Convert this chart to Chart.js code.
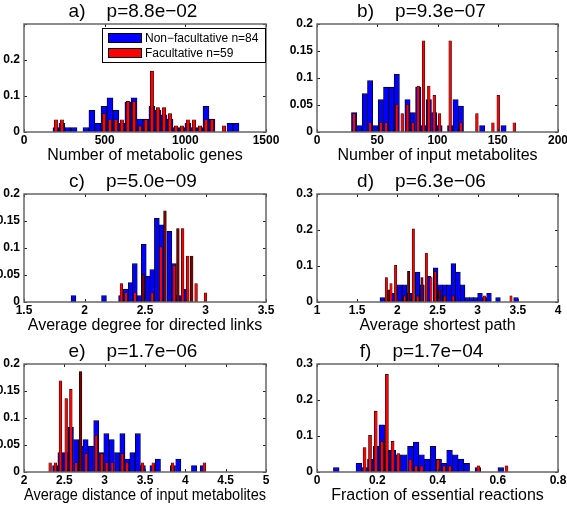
<!DOCTYPE html>
<html>
<head>
<meta charset="utf-8">
<script src="https://cdn.jsdelivr.net/npm/chart.js@4.4.1/dist/chart.umd.min.js"></script>
<style>
  html, body { margin: 0; padding: 0; background: #fff; overflow: hidden; width: 567px; height: 507px; }
  canvas { position: absolute; }
</style>
</head>
<body>
<canvas id="pa" width="290" height="170" style="left:0;top:0"></canvas>
<canvas id="pb" width="305" height="170" style="left:285px;top:0"></canvas>
<canvas id="pc" width="290" height="170" style="left:0;top:170px"></canvas>
<canvas id="pd" width="305" height="170" style="left:285px;top:170px"></canvas>
<canvas id="pe" width="290" height="170" style="left:0;top:340px"></canvas>
<canvas id="pf" width="305" height="170" style="left:285px;top:340px"></canvas>
<script>
const nonFacLabel = 'Non\u2212facultative n=84';
const facLabel = 'Facultative n=59';

// a) number of metabolic genes (shared bins)
const geneBins = [198, 235, 272, 310, 347, 384, 421, 458, 496, 533, 570, 607, 644, 682, 719, 756,
  793, 830, 868, 905, 942, 979, 1016, 1054, 1091, 1128, 1165, 1202, 1240, 1277, 1314];
const geneNonFac = [.012, .024, .012, .012, 0, .012, .060, .024, .071, .095, .060, .024, .083, .095, .036, .036,
  .071, .060, .048, .036, .012, .012, .024, .012, .012, .071, .036, 0, 0, .024, .024];
const geneFac = [.034, .034, 0, 0, 0, 0, 0, 0, .051, .034, .034, .034, .085, .085, .017, .034,
  .169, .068, .068, .051, .017, .017, .034, .034, .017, .034, .034, 0, .017, 0, 0];

// b) number of input metabolites (shared bins)
const inputBins = [30.8, 35.2, 39.7, 44.1, 48.5, 53.0, 57.4, 61.8, 66.2, 70.7, 75.1, 79.5, 84.0, 88.4, 92.8, 97.3,
  101.7, 106.1, 110.5, 115.0, 119.4, 123.8, 128.3, 132.7, 137.1, 141.6, 146.0, 150.4, 154.8, 159.3, 163.7];
const inputNonFac = [.036, .012, .071, .095, .012, .060, .083, .083, .107, 0, .060, .036, .083, .012, .060, .036,
  .012, 0, .012, .060, .048, 0, 0, 0, .012, 0, 0, 0, .012, 0, 0];
const inputFac = [.034, 0, 0, .017, 0, .017, .017, 0, .051, .034, .051, .017, .085, .169, .085, .068,
  .034, 0, .169, 0, .017, 0, 0, .034, 0, 0, .017, .068, 0, 0, .017];

// c) average degree for directed links
const degNonFacX = [1.909, 2.161, 2.302, 2.341, 2.382, 2.416, 2.454, 2.490, 2.526, 2.560, 2.598, 2.637, 2.701, 2.739, 2.778, 2.844];
const degNonFac = [.012, .012, .012, .024, .036, .071, .012, .107, .048, .060, .155, .143, .131, .071, .012, .024];
const degFacX = [2.305, 2.344, 2.418, 2.485, 2.560, 2.631, 2.665, 2.742, 2.772, 2.811, 2.853, 2.886, 2.922, 3.000];
const degFac = [.034, .017, .017, .051, .017, .102, .169, .068, .136, .136, .085, .085, .034, .017];

// d) average shortest path
const pathNonFacX = [1.813, 1.942, 2.029, 2.091, 2.149, 2.253, 2.307, 2.390, 2.477, 2.531, 2.589, 2.643,
  2.697, 2.755, 2.813, 2.871, 2.925, 2.975, 3.029, 3.083, 3.141, 3.253, 3.477];
const pathNonFac = [.012, .024, .048, .048, .024, .083, .048, .071, .095, .048, .048, .048,
  .107, .083, .048, .012, .012, .012, .024, .012, .024, .012, .012];
const pathFacX = [1.863, 1.892, 1.921, 1.979, 2.091, 2.141, 2.199, 2.253, 2.307, 2.361, 2.419, 2.473,
  2.527, 2.589, 2.697, 3.083, 3.415];
const pathFac = [.068, .034, .051, .102, .017, .085, .203, .017, .068, .136, .068, .085,
  .034, .017, .017, .017, .017];

// e) average distance of input metabolites
const distNonFacX = [2.386, 2.452, 2.515, 2.581, 2.647, 2.705, 2.763, 2.830, 2.896, 2.958, 3.021, 3.087,
  3.154, 3.220, 3.282, 3.344, 3.411, 3.473, 3.593, 3.660, 3.846, 3.913, 4.108, 4.216];
const distNonFac = [.012, .036, .036, .083, .060, .048, .060, .048, .095, .036, .071, .060,
  .036, .071, .024, .036, .071, .012, .012, .024, .012, .024, .012, .012];
const distFacX = [2.324, 2.390, 2.452, 2.523, 2.581, 2.647, 2.701, 2.772, 2.896, 2.963, 3.025, 3.095,
  3.220, 3.278, 3.469, 3.602, 3.842, 4.236];
const distFac = [.017, .017, .169, .136, .153, .017, .186, .034, .068, .034, .017, .017,
  .034, .017, .017, .017, .017, .017];

// f) fraction of essential reactions
const essNonFacX = [0.064, 0.139, 0.158, 0.177, 0.196, 0.215, 0.233, 0.252, 0.271, 0.290, 0.310, 0.329,
  0.347, 0.366, 0.385, 0.404, 0.422, 0.440, 0.459, 0.478, 0.497, 0.534, 0.610];
const essNonFac = [.012, .024, .012, .036, .071, .131, .060, .060, .048, .048, .071, .083,
  .048, .036, .071, .036, .024, .060, .048, .036, .024, .012, .012];
const essFacX = [0.158, 0.176, 0.195, 0.216, 0.232, 0.251, 0.270, 0.310, 0.329, 0.347, 0.402, 0.422,
  0.441, 0.536, 0.629];
const essFac = [.068, .102, .169, .085, .271, .085, .051, .034, .017, .017, .034, .017,
  .017, .017, .017];

const FONT = '"Liberation Sans", Arial, Helvetica, sans-serif';
const BLUE = '#0000ff';
const RED = '#ff0000';
const DARK_RED = '#7a0000';
Chart.defaults.font.family = FONT;
Chart.defaults.color = '#000';

const fmt = v => String(+(+v).toFixed(2));

// matlab style box with inward ticks
const matlabBox = {
  id: 'matlabBox',
  afterDatasetsDraw(chart) {
    const { ctx, chartArea: a, scales: { x, y } } = chart;
    ctx.save();
    ctx.strokeStyle = '#222';
    ctx.lineWidth = 1;
    ctx.beginPath();
    x.ticks.forEach(t => {
      const px = Math.round(x.getPixelForValue(t.value)) + 0.5;
      ctx.moveTo(px, a.bottom); ctx.lineTo(px, a.bottom - 3);
      ctx.moveTo(px, a.top); ctx.lineTo(px, a.top + 3);
    });
    y.ticks.forEach(t => {
      const py = Math.round(y.getPixelForValue(t.value)) + 0.5;
      ctx.moveTo(a.left, py); ctx.lineTo(a.left + 3, py);
      ctx.moveTo(a.right, py); ctx.lineTo(a.right - 3, py);
    });
    ctx.stroke();
    ctx.strokeStyle = '#666';
    ctx.lineWidth = 1.5;
    ctx.strokeRect(a.left, a.top, a.right - a.left, a.bottom - a.top);
    ctx.restore();
  }
};

const boxLegend = {
  id: 'boxLegend',
  afterDraw(chart) {
    const { ctx, chartArea: a } = chart;
    const w = 163, h = 34;
    const left = a.right - 1 - w, top = a.top + 4;
    const swatches = [BLUE, RED];
    ctx.save();
    ctx.fillStyle = '#fff';
    ctx.fillRect(left, top, w, h);
    ctx.strokeStyle = '#000';
    ctx.lineWidth = 1;
    ctx.strokeRect(left + 0.5, top + 0.5, w, h);
    ctx.font = '12px ' + FONT;
    ctx.textBaseline = 'middle';
    chart.data.datasets.forEach((ds, i) => {
      const yy = top + 5 + i * 15;
      ctx.fillStyle = swatches[i];
      ctx.fillRect(left + 6, yy, 34, 10);
      ctx.strokeRect(left + 6.5, yy + 0.5, 33, 9);
      ctx.fillStyle = '#000';
      ctx.fillText(ds.label, left + 43, yy + 5.5);
    });
    ctx.restore();
  }
};

function toPoints(xs, ys) {
  return xs.map((x, i) => ({ x: x, y: ys[i] }));
}

function makePanel(p) {
  const right = p.col === 1;
  const yW = right ? 32 : 24;
  const padR = right ? 32 : 24;
  const dark = p.darkX || [];
  return new Chart(document.getElementById(p.id), {
    type: 'bar',
    data: {
      datasets: [{
        label: nonFacLabel,
        data: toPoints(p.blueX, p.blueY),
        backgroundColor: BLUE,
        borderColor: '#000',
        borderWidth: 0.8,
        borderSkipped: false,
        barThickness: p.blueW,
        grouped: false,
        order: 2
      }, {
        label: facLabel,
        data: toPoints(p.redX, p.redY),
        backgroundColor: c => (c.raw && dark.includes(c.raw.x)) ? DARK_RED : RED,
        borderColor: '#000',
        borderWidth: 0.6,
        borderSkipped: false,
        barThickness: p.redW,
        grouped: false,
        order: 1
      }]
    },
    options: {
      responsive: false,
      animation: false,
      layout: { padding: { left: 0, right: padR, top: 0, bottom: 0 } },
      plugins: {
        legend: { display: false },
        tooltip: { enabled: false },
        title: {
          display: true,
          text: p.title,
          color: '#000',
          font: { size: 19, weight: 'normal', lineHeight: 1.2 },
          padding: { top: 0, bottom: 1.2 }
        }
      },
      scales: {
        x: {
          type: 'linear',
          min: p.xMin, max: p.xMax,
          offset: false,
          grid: { display: false, drawTicks: false },
          border: { display: false },
          ticks: {
            stepSize: p.xStep, autoSkip: false, maxRotation: 0, padding: 1.5,
            font: { size: 12, weight: 'bold', lineHeight: 1.2 },
            callback: fmt
          },
          title: {
            display: true, text: p.xTitle,
            font: { size: 16, lineHeight: 1.2 },
            padding: { top: 0, bottom: 4.6 }
          },
          afterFit: s => { s.height = 38; }
        },
        y: {
          min: 0, max: p.yMax,
          grid: { display: false, drawTicks: false },
          border: { display: false },
          ticks: {
            stepSize: p.yStep, padding: 4,
            font: { size: 12, weight: 'bold' },
            callback: v => (p.hideTop && Math.abs(v - p.yMax) < 1e-9) ? '' : fmt(v)
          },
          afterFit: s => { s.width = yW; }
        }
      }
    },
    plugins: p.legend ? [matlabBox, boxLegend] : [matlabBox]
  });
}

makePanel({ id: 'pa', col: 0, title: 'a)    p=8.8e\u221202', xTitle: 'Number of metabolic genes',
  blueX: geneBins, blueY: geneNonFac, redX: geneBins, redY: geneFac, blueW: 6, redW: 3.3,
  xMin: 0, xMax: 1500, xStep: 500, yMax: 0.3, yStep: 0.1, hideTop: true, legend: true });
makePanel({ id: 'pb', col: 1, title: 'b)    p=9.3e\u221207', xTitle: 'Number of input metabolites',
  blueX: inputBins, blueY: inputNonFac, redX: inputBins, redY: inputFac, blueW: 5.3, redW: 2.7,
  xMin: 0, xMax: 200, xStep: 50, yMax: 0.2, yStep: 0.05 });
makePanel({ id: 'pc', col: 0, title: 'c)    p=5.0e\u221209', xTitle: 'Average degree for directed links',
  blueX: degNonFacX, blueY: degNonFac, redX: degFacX, redY: degFac, blueW: 4.9, redW: 2.7,
  darkX: [2.485, 2.665, 2.772, 2.886],
  xMin: 1.5, xMax: 3.5, xStep: 0.5, yMax: 0.2, yStep: 0.05 });
makePanel({ id: 'pd', col: 1, title: 'd)    p=6.3e\u221206', xTitle: 'Average shortest path',
  blueX: pathNonFacX, blueY: pathNonFac, redX: pathFacX, redY: pathFac, blueW: 4.7, redW: 2.4,
  darkX: [1.892, 2.141, 2.307, 2.527],
  xMin: 1, xMax: 4, xStep: 0.5, yMax: 0.3, yStep: 0.1 });
makePanel({ id: 'pe', col: 0, title: 'e)    p=1.7e\u221206', xTitle: 'Average distance of input metabolites',
  blueX: distNonFacX, blueY: distNonFac, redX: distFacX, redY: distFac, blueW: 5.2, redW: 2.7,
  darkX: [2.701],
  xMin: 2, xMax: 5, xStep: 0.5, yMax: 0.2, yStep: 0.05 });
makePanel({ id: 'pf', col: 1, title: 'f)    p=1.7e\u221204', xTitle: 'Fraction of essential reactions',
  blueX: essNonFacX, blueY: essNonFac, redX: essFacX, redY: essFac, blueW: 5.7, redW: 3,
  xMin: 0, xMax: 0.8, xStep: 0.2, yMax: 0.3, yStep: 0.1 });
</script>
</body>
</html>
